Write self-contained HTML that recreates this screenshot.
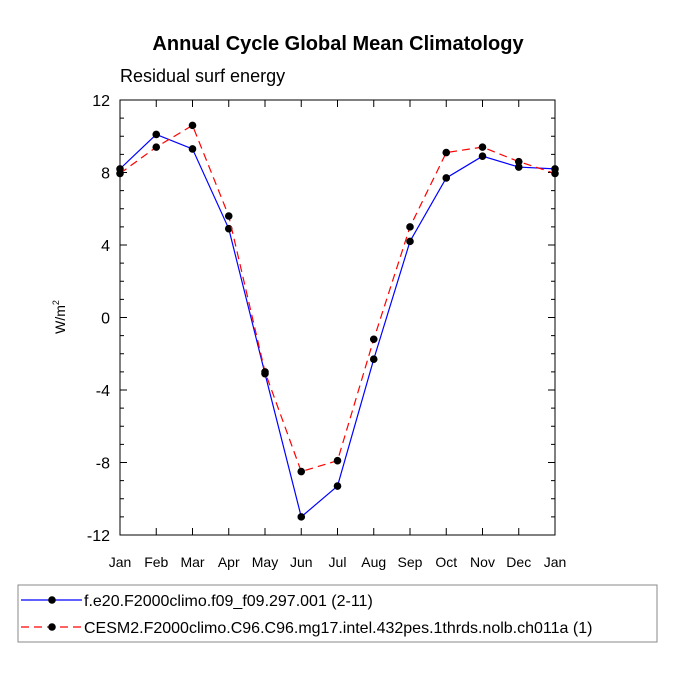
<!DOCTYPE html>
<html><head><meta charset="utf-8"><style>
body{margin:0;background:#fff}
svg{display:block;font-family:"Liberation Sans",Arial,sans-serif}
</style></head><body>
<svg id="c" width="675" height="675" viewBox="0 0 675 675">
<text x="338" y="50" font-size="20" font-weight="bold" text-anchor="middle">Annual Cycle Global Mean Climatology</text>
<text x="120" y="82" font-size="18">Residual surf energy</text>
<text transform="translate(65,317) rotate(-90)" font-size="14" text-anchor="middle">W/m<tspan font-size="9" dy="-6">2</tspan></text>
<rect x="120" y="100" width="435" height="435" fill="none" stroke="#000" stroke-width="1"/>
<g id="ax"></g><g id="series"></g>
<g>
<rect x="18" y="585" width="639" height="57" fill="none" stroke="#888" stroke-width="1"/>
<line x1="21" y1="600" x2="82" y2="600" stroke="#00f" stroke-width="1.2"/>
<circle cx="52" cy="600" r="3.8" fill="#000"/>
<text x="84" y="606" font-size="16">f.e20.F2000climo.f09_f09.297.001 (2-11)</text>
<line x1="21" y1="627" x2="82" y2="627" stroke="#f00" stroke-width="1.2" stroke-dasharray="8,5"/>
<circle cx="52" cy="627" r="3.8" fill="#000"/>
<text x="84" y="633" font-size="16">CESM2.F2000climo.C96.C96.mg17.intel.432pes.1thrds.nolb.ch011a (1)</text>
</g>
</svg>
<script>
const months=["Jan","Feb","Mar","Apr","May","Jun","Jul","Aug","Sep","Oct","Nov","Dec","Jan"];
const seriesA=[8.2,10.1,9.3,4.9,-3.1,-11.0,-9.3,-2.3,4.2,7.7,8.9,8.3,8.2];
const seriesB=[7.95,9.4,10.6,5.6,-3.0,-8.5,-7.9,-1.2,5.0,9.1,9.4,8.6,7.95];
const yTicks=[-12,-8,-4,0,4,8,12];
const NS="http://www.w3.org/2000/svg";
const X0=120,X1=555,Y0=535,Y1=100,ymin=-12,ymax=12;
const xs=i=>X0+(X1-X0)*i/(months.length-1);
const ys=v=>Y0-(Y0-Y1)*(v-ymin)/(ymax-ymin);
function mk(t,a,p){const e=document.createElementNS(NS,t);for(const k in a)e.setAttribute(k,a[k]);p.appendChild(e);return e;}
const ax=document.getElementById('ax');
for(let v=ymin;v<=ymax;v++){const maj=yTicks.includes(v);const L=maj?7:4;
 const t1=mk('line',{x1:X0,x2:X0+L,y1:ys(v),y2:ys(v),stroke:'#000'},ax);
 
 
 const t2=mk('line',{x1:X1,x2:X1-L,y1:ys(v),y2:ys(v),stroke:'#000'},ax);
 
 }
yTicks.forEach(v=>{const t=mk('text',{x:X0-10,y:ys(v)+6,'font-size':16,'text-anchor':'end'},ax);t.textContent=v;
 
 });
months.forEach((m,i)=>{
 const a=mk('line',{x1:xs(i),x2:xs(i),y1:Y0,y2:Y0-7,stroke:'#000'},ax);
 
 
 const b=mk('line',{x1:xs(i),x2:xs(i),y1:Y1,y2:Y1+7,stroke:'#000'},ax);
 
 
 const t=mk('text',{x:xs(i),y:Y0+32,'font-size':14,'text-anchor':'middle'},ax);t.textContent=m;
 
 });
const sg=document.getElementById('series');
function draw(vals,col,dash,name){
 const pl=mk('polyline',{points:vals.map((v,i)=>xs(i)+','+ys(v)).join(' '),fill:'none',stroke:col,'stroke-width':1.2,'stroke-dasharray':dash},sg);
 
 
 vals.forEach((v,i)=>{const c=mk('circle',{cx:xs(i),cy:ys(v),r:3.8,fill:'#000'},sg);
  
  });
}
draw(seriesA,'#00f','none','series-f09');
draw(seriesB,'#f00','8,5','series-cesm2');
</script>
</body></html>
